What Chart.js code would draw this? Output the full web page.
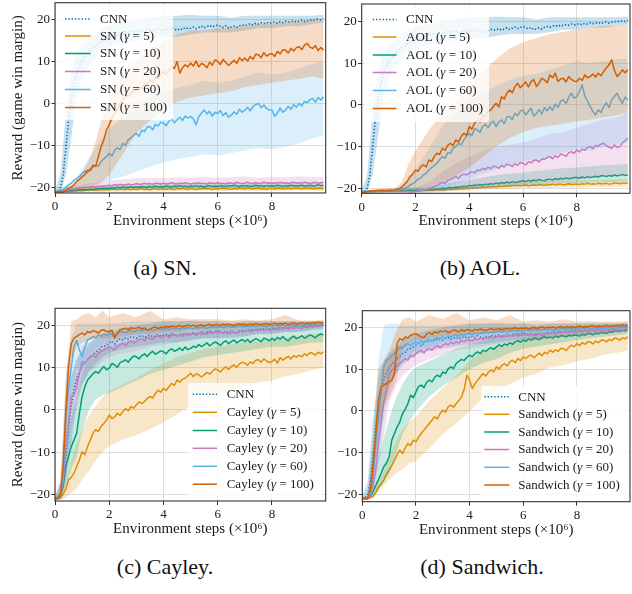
<!DOCTYPE html>
<html><head><meta charset="utf-8">
<script src="https://cdn.jsdelivr.net/npm/chart.js@4.4.0/dist/chart.umd.min.js"></script>
<style>
html,body{margin:0;padding:0;background:#fff;}
body{width:632px;height:594px;position:relative;overflow:hidden;}
canvas{position:absolute;}
.cap{position:absolute;font-family:'Liberation Serif','Times New Roman',serif;font-size:22px;line-height:22px;color:#111;white-space:nowrap;transform:translateX(-50%);}
</style></head><body>
<canvas id="cA"></canvas><canvas id="cB"></canvas><canvas id="cC"></canvas><canvas id="cD"></canvas>
<div class="cap" style="left:165px;top:257px">(a) SN.</div>
<div class="cap" style="left:480px;top:257px">(b) AOL.</div>
<div class="cap" style="left:165px;top:556px">(c) Cayley.</div>
<div class="cap" style="left:482px;top:556px">(d) Sandwich.</div>
<script>
// ---------- x grids ----------
const stepX = [0,0.1,0.2,0.3,0.4,0.5,0.6,0.7,0.8,0.9,1,1.1,1.2,1.3,1.4,1.5,1.6,1.7,1.8,1.9,2,2.1,2.2,2.3,2.4,2.5,2.6,2.7,2.8,2.9,3,3.1,3.2,3.3,3.4,3.5,3.6,3.7,3.8,3.9,4,4.1,4.2,4.3,4.4,4.5,4.6,4.7,4.8,4.9,5,5.1,5.2,5.3,5.4,5.5,5.6,5.7,5.8,5.9,6,6.1,6.2,6.3,6.4,6.5,6.6,6.7,6.8,6.9,7,7.1,7.2,7.3,7.4,7.5,7.6,7.7,7.8,7.9,8,8.1,8.2,8.3,8.4,8.5,8.6,8.7,8.8,8.9,9,9.1,9.2,9.3,9.4,9.5,9.6,9.7,9.8,9.9];
const bandX = [0,0.2,0.4,0.6,0.8,1,1.25,1.5,1.75,2,2.5,3,3.5,4,4.5,5,5.5,6,6.5,7,7.5,8,8.5,9,9.5,9.9];
const xTickValues = [0,2,4,6,8];
const yTickValues = [-20,-10,0,10,20];

// ---------- CNN (shared) ----------
const cnnMean = [-21,-20.9,-20,-17,-10.5,-4,1,5,7.5,9,
10.5,11.2,12,12.6,13.1,13.8,14.1,14.9,15,15.4,
15.8,16.3,15.6,16.4,16.9,16.6,17.1,16.8,17.3,17.2,
17,17.4,17.6,17.2,17.5,17.8,17.3,17.6,17.9,17.5,
17.7,17.9,17.6,18.1,17.8,17.5,17.9,17.7,18.2,17.9,
18,18.3,17.9,18.2,18.5,18.1,18.4,18.7,18.3,18.6,
18.8,18.5,18.2,18.6,18,18.3,18.5,18.2,18.6,18.8,
18.6,18.9,19.1,18.8,19.2,19,19.3,19.1,19.4,19.2,
19.3,19.5,19.2,19.6,19.4,19.7,19.5,19.6,19.8,19.5,
19.7,19.9,19.6,19.8,20,19.9,20.1,20.2,20,20.3];
const cnnLo = [-21.3,-21,-17,-8,2,6,9,11,12.5,13.5,14.5,15,15.5,16,16,16.5,17,17,17,17.5,18,18,18.5,18.5,19,19.3];
const cnnHi = [-20.5,-17,-2,8,12,14,15.5,17,18,18.5,19.5,20,20.5,21,21,21.2,21,21,20.5,21,21,21,21,21,21,21.2];

// ---------- SN ----------
const sn5 = [-21,-21,-20.9,-20.9,-20.8,-20.8,-20.7,-20.8,-20.7,-20.6,
-20.7,-20.6,-20.5,-20.6,-20.5,-20.6,-20.4,-20.5,-20.5,-20.4,
-20.5,-20.3,-20.4,-20.5,-20.3,-20.4,-20.4,-20.3,-20.5,-20.3,
-20.4,-20.3,-20.2,-20.4,-20.3,-20.5,-20.3,-20.2,-20.4,-20.3,
-20.3,-20.4,-20.2,-20.3,-20.4,-20.2,-20.3,-20.1,-20.3,-20.4,
-20.2,-20.3,-20.4,-20.2,-20.3,-20.1,-20.3,-20.2,-20.4,-20.2,
-20.3,-20.2,-20.1,-20.3,-20.2,-20.4,-20.2,-20.3,-20.1,-20.2,
-20.3,-20.1,-20.2,-20.3,-20.2,-20.1,-20.3,-20.2,-20.4,-20.2,
-20.2,-20.3,-20.1,-20.2,-20.3,-20.2,-20.1,-20.3,-20.2,-20.1,
-20.2,-20.3,-20.1,-20.2,-20.1,-20.3,-20.2,-20.1,-20.2,-20.3];
const sn5Lo = [-21.3,-21.3,-21.2,-21.2,-21.1,-21.1,-21,-21,-21,-20.9,-20.9,-20.8,-20.9,-20.8,-20.8,-20.8,-20.7,-20.8,-20.7,-20.7,-20.8,-20.7,-20.7,-20.6,-20.7,-20.7];
const sn5Hi = [-20.7,-20.6,-20.5,-20.4,-20.3,-20.2,-20.1,-20,-20,-19.9,-19.9,-19.8,-19.8,-19.7,-19.8,-19.7,-19.7,-19.6,-19.7,-19.6,-19.6,-19.7,-19.6,-19.6,-19.5,-19.6];
const sn10 = [-21,-21,-20.9,-20.8,-20.8,-20.7,-20.7,-20.6,-20.6,-20.5,
-20.5,-20.4,-20.5,-20.3,-20.4,-20.2,-20.3,-20.2,-20.1,-20.2,
-20.1,-20,-20.1,-19.9,-20,-19.8,-20,-19.9,-19.8,-19.9,
-19.8,-19.9,-19.7,-19.8,-19.9,-19.7,-19.8,-19.6,-19.8,-19.7,
-19.8,-19.6,-19.7,-19.8,-19.6,-19.7,-19.5,-19.7,-19.6,-19.8,
-19.6,-19.7,-19.5,-19.7,-19.6,-19.8,-19.6,-19.5,-19.7,-19.6,
-19.7,-19.5,-19.6,-19.7,-19.5,-19.6,-19.4,-19.6,-19.7,-19.5,
-19.6,-19.5,-19.7,-19.6,-19.4,-19.6,-19.5,-19.7,-19.5,-19.6,
-19.5,-19.6,-19.4,-19.5,-19.7,-19.5,-19.6,-19.4,-19.5,-19.6,
-19.5,-19.4,-19.6,-19.5,-19.4,-19.6,-19.5,-19.3,-19.5,-19.4];
const sn10Lo = [-21.3,-21.2,-21.1,-21,-21,-20.9,-20.8,-20.7,-20.6,-20.6,-20.5,-20.4,-20.4,-20.3,-20.3,-20.2,-20.3,-20.2,-20.2,-20.2,-20.1,-20.1,-20.1,-20,-20.1,-20];
const sn10Hi = [-20.7,-20.5,-20.3,-20.1,-20,-19.9,-19.7,-19.6,-19.5,-19.4,-19.2,-19.1,-19,-19,-18.9,-19,-18.9,-18.8,-18.9,-18.8,-18.8,-18.9,-18.8,-18.7,-18.8,-18.7];
const sn20 = [-21,-21,-20.9,-20.7,-20.6,-20.5,-20.3,-20.4,-20.2,-20.1,
-20,-19.9,-20,-19.8,-19.7,-19.8,-19.6,-19.7,-19.5,-19.6,
-19.4,-19.5,-19.3,-19.4,-19.2,-19.3,-19.4,-19.1,-19.3,-19.2,
-19,-19.2,-19.1,-18.9,-19.1,-19,-19.2,-18.9,-19,-19.1,
-18.9,-19.1,-19,-18.8,-19,-19.1,-18.9,-19,-18.8,-19,
-19.1,-18.9,-19,-18.8,-19,-18.9,-19.1,-18.8,-18.9,-19,
-18.8,-19,-18.9,-19.1,-18.8,-18.9,-19,-18.7,-18.9,-19,
-18.9,-18.7,-19,-18.9,-18.8,-19,-18.9,-18.7,-18.9,-18.8,
-19,-18.8,-18.9,-18.7,-18.9,-18.8,-19,-18.8,-18.7,-18.9,
-18.8,-18.9,-18.7,-18.8,-19,-18.8,-18.7,-18.9,-18.8,-18.7];
const sn20Lo = [-21.3,-21.2,-21,-20.9,-20.7,-20.6,-20.5,-20.3,-20.2,-20.1,-20,-19.9,-19.9,-19.8,-19.9,-19.8,-19.9,-19.7,-19.8,-19.7,-19.8,-19.7,-19.8,-19.7,-19.7,-19.6];
const sn20Hi = [-20.7,-20.5,-20.2,-19.9,-19.6,-19.3,-19,-18.8,-18.5,-18.3,-18,-17.8,-17.6,-17.7,-17.5,-17.6,-17.4,-17.6,-17.5,-17.3,-17.6,-17.4,-17.5,-17.3,-17.4,-17.5];
const sn60 = [-21,-20.9,-20.6,-20.4,-19.9,-19.3,-18.9,-18.2,-17.8,-17.3,
-16.6,-16,-16.4,-15.5,-15.1,-14.6,-14.9,-13.8,-13.1,-12.6,
-11.8,-12.4,-11,-10.5,-10.9,-9.4,-9.9,-8.6,-8.1,-7.5,
-7,-7.8,-6.3,-6.6,-5.5,-5.4,-6.2,-4.9,-5.3,-4.4,
-4.6,-5.2,-4.1,-3.6,-4.5,-3.8,-3.2,-4,-2.9,-3.4,
-3,-3.6,-5,-3.1,-2.2,-1.5,-2.4,-1.8,-2.9,-2,
-2.3,-1.6,-2.8,-2.1,-3.2,-2.7,-1.9,-2.5,-1.3,-2,
-1.5,-0.8,-1.7,-0.6,-0.2,0.1,-0.9,-0.3,-1.1,-1.5,
-1.5,-3,-2.2,-1,-2,-1.5,-0.6,-1.3,-0.2,-0.8,
0.1,-0.5,0.6,0.3,1,1.3,0.4,1.5,0.9,1.7];
const sn60Lo = [-21.3,-21.1,-20.9,-20.6,-20.3,-20,-19.6,-19.2,-18.7,-18.2,-17.4,-16.2,-15,-14,-13.2,-12.6,-12,-12.3,-11.8,-11,-10.5,-10.8,-10.2,-9.5,-8.2,-7.5];
const sn60Hi = [-20.7,-20.3,-19.6,-18.7,-17.5,-15.5,-13,-10.5,-8,-6,-3,-0.5,1.5,3,3.8,4.5,5.5,5,5.5,6.5,7.5,7,7.5,8.5,9.5,10];
const sn100 = [-21,-21,-20.9,-21,-20.6,-20.1,-19.8,-19.3,-18.5,-18,
-17.4,-16.9,-15.8,-15.9,-14.6,-14.9,-12.6,-10.2,-8.6,-6.2,
-5,-3.4,-2.3,-1.2,0.1,0.9,1.7,1.9,2.5,3.1,
3.3,4,3.6,4.8,4.5,5.7,5.2,6.3,6,7.1,
7.7,6.9,8,8.9,8.4,10.1,7.3,8.6,9.3,8.8,
9.7,9,10.2,8.8,9.6,9.3,8.6,9.9,9.2,10.5,
10.1,9.4,10.6,9.8,9.2,9.7,10.4,9.6,11,10.3,
10.9,10.2,11.3,10.6,11.8,11.7,11,12.2,11.4,11.8,
12,11.3,12.5,11.9,12.9,12.8,12.1,13.2,12.6,13.4,
13.6,12.9,14,14.4,13.5,13.2,13.9,12.7,13.4,12.8];
const sn100Lo = [-21.3,-21.2,-21.2,-21,-20.8,-20.5,-20,-19.5,-18.5,-17,-12,-7,-4,-1.5,0.5,1.5,2,2.5,3,4,4.5,5,5.5,6,6.5,6];
const sn100Hi = [-20.7,-20.6,-20.4,-19.8,-18.5,-16.5,-13.5,-9,-3,1,7,10.5,13,15,16.5,17.5,17.5,18,18,18.5,19,19,19.5,19.5,20,19.8];

// ---------- AOL ----------
const aol5 = [-21,-20.9,-20.8,-20.7,-20.7,-20.6,-20.7,-20.6,-20.6,-20.7,
-20.6,-20.7,-20.6,-20.6,-20.7,-20.6,-20.5,-20.6,-20.6,-20.5,
-20.6,-20.5,-20.6,-20.5,-20.5,-20.4,-20.5,-20.4,-20.3,-20.4,
-20.3,-20.4,-20.2,-20.3,-20.2,-20.1,-20.2,-20,-20.1,-20,
-19.9,-20,-19.8,-19.9,-19.8,-19.7,-19.8,-19.6,-19.7,-19.6,
-19.7,-19.5,-19.6,-19.5,-19.4,-19.5,-19.3,-19.4,-19.3,-19.4,
-19.3,-19.2,-19.4,-19.3,-19.2,-19.3,-19.1,-19.2,-19.3,-19.1,
-19.2,-19,-19.2,-19.1,-19,-19.2,-19.1,-18.9,-19.1,-19,
-19,-19.1,-18.9,-19,-18.8,-19,-18.9,-19,-18.8,-18.9,
-18.9,-18.8,-19,-18.9,-18.7,-18.8,-18.9,-18.7,-18.8,-18.8];
const aol5Lo = [-21.3,-21.2,-21.1,-21.1,-21,-21,-21,-20.9,-20.9,-20.9,-20.8,-20.7,-20.6,-20.5,-20.3,-20.2,-20.1,-20,-19.9,-19.9,-19.8,-19.8,-19.7,-19.7,-19.6,-19.6];
const aol5Hi = [-20.7,-20.5,-20.4,-20.3,-20.3,-20.2,-20.2,-20.1,-20.1,-20,-19.9,-19.7,-19.5,-19.3,-19,-18.8,-18.6,-18.5,-18.4,-18.3,-18.2,-18.1,-18,-18,-17.9,-17.9];
const aol10 = [-21,-20.9,-20.8,-20.7,-20.7,-20.6,-20.7,-20.6,-20.5,-20.6,
-20.6,-20.5,-20.6,-20.6,-20.5,-20.6,-20.5,-20.6,-20.4,-20.5,
-20.5,-20.4,-20.5,-20.3,-20.4,-20.3,-20.2,-20.3,-20.1,-20.2,
-20,-20.1,-19.9,-19.8,-19.9,-19.7,-19.8,-19.6,-19.5,-19.6,
-19.3,-19.4,-19.2,-19.3,-19.1,-19.2,-19,-19.1,-18.9,-19,
-18.7,-18.9,-18.6,-18.8,-18.5,-18.7,-18.4,-18.6,-18.5,-18.3,
-18.2,-18.4,-18.1,-18.3,-18,-18.2,-17.9,-18.1,-18.2,-17.9,
-17.8,-18,-17.7,-17.9,-17.6,-17.8,-17.5,-17.7,-17.6,-17.4,
-17.4,-17.6,-17.3,-17.5,-17.2,-17.4,-17.3,-17.1,-17.3,-17,
-17,-17.2,-16.9,-17.1,-16.8,-17,-16.9,-16.7,-16.9,-16.8];
const aol10Lo = [-21.3,-21.2,-21.1,-21,-21,-21,-20.9,-20.9,-20.9,-20.8,-20.7,-20.6,-20.4,-20.2,-20,-19.7,-19.5,-19.3,-19.2,-19,-18.9,-18.8,-18.6,-18.5,-18.4,-18.3];
const aol10Hi = [-20.7,-20.5,-20.3,-20.2,-20.1,-20,-20,-19.9,-19.8,-19.8,-19.5,-19.1,-18.5,-18,-17.4,-16.9,-16.5,-16.2,-15.8,-15.5,-15.2,-15,-14.7,-14.5,-14.3,-14.2];
const aol20 = [-21,-20.9,-20.8,-20.7,-20.7,-20.6,-20.7,-20.6,-20.7,-20.6,
-20.7,-20.6,-20.7,-20.8,-20.7,-20.8,-20.7,-20.8,-20.9,-20.8,
-20.8,-20.7,-20.6,-20.4,-20.3,-20,-19.8,-19.5,-19.3,-18.9,
-18.6,-18.8,-18.1,-17.9,-17.5,-17.2,-17.6,-16.9,-16.6,-16.8,
-16.4,-16,-16.3,-15.6,-15.8,-15.2,-15.5,-14.9,-15.3,-14.7,
-14.8,-15.2,-14.5,-14.9,-14.2,-14.4,-14.8,-14.1,-14.5,-13.8,
-14,-14.4,-13.6,-13.9,-13.3,-13.2,-13.7,-12.9,-13.1,-12.6,
-12.4,-12.9,-12.2,-12.6,-11.8,-12,-12.3,-11.5,-11.2,-11.6,
-10.8,-11.3,-10.6,-10.9,-10.2,-10,-10.5,-9.7,-9.9,-9.4,
-9.2,-9.8,-10.1,-10.4,-9.6,-10.2,-10,-9.1,-8.6,-8];
const aol20Lo = [-21.3,-21.2,-21.1,-21,-21,-21,-21.1,-21.1,-21.1,-21.1,-21,-20.8,-20.5,-20.2,-19.9,-19.6,-19.3,-19,-18.8,-18.5,-18.2,-18,-17.6,-17.3,-17,-16.6];
const aol20Hi = [-20.7,-20.5,-20.4,-20.3,-20.3,-20.3,-20.3,-20.3,-20.2,-20,-18.5,-16,-14,-12.5,-11,-10,-9.5,-9,-8,-7,-6.5,-5.5,-4.5,-3.5,-3,-2];
const aol60 = [-21,-20.9,-20.8,-20.7,-20.6,-20.6,-20.7,-20.5,-20.6,-20.6,
-20.5,-20.6,-20.6,-20.5,-20.4,-20.2,-20,-19.7,-19.2,-18.9,
-18.4,-17.8,-17.5,-16.8,-16.4,-15.6,-15,-14.6,-14,-13.1,
-12.4,-12.8,-11.5,-11.6,-10.4,-10,-9.2,-9.6,-8.4,-7.5,
-6.8,-7.4,-5.7,-6,-6.6,-5.2,-4.6,-5.5,-4.4,-3.9,
-5.2,-4.1,-3.6,-4.5,-2.9,-2.8,-3.5,-2,-2.6,-1.5,
-1.2,-2.4,-1.6,-0.8,-2.7,-2,-1.1,-2.2,-0.6,-1.4,
-0.4,-1.3,0.2,-0.6,0.9,1.2,0.3,1.8,2.8,1.6,
2,3.2,4.8,2.1,0.9,-0.4,-1.6,-2.4,-1.2,-1.8,
-0.4,0.5,-0.6,1.2,2,2.8,1.4,0.4,1.9,1.2];
const aol60Lo = [-21.3,-21.2,-21.1,-21,-21,-21,-20.9,-20.9,-20.8,-20.7,-20.4,-19.8,-19,-17.8,-16.5,-15.5,-14.5,-13.5,-13,-12.5,-11.5,-10.5,-11,-10,-9.5,-9];
const aol60Hi = [-20.7,-20.5,-20.4,-20.3,-20.3,-20.2,-20.1,-19.6,-18,-15.5,-10.5,-5,-1.5,1,3,4.5,6,7,7.5,8.5,9.5,10.5,10,10.5,11,11];
const aol100 = [-21,-20.9,-20.8,-20.7,-20.6,-20.6,-20.5,-20.6,-20.5,-20.6,
-20.5,-20.6,-20.5,-20.3,-20.1,-19.6,-19,-18.3,-17.2,-16.6,
-15.6,-15.9,-14.8,-14.4,-14.9,-13.2,-13.6,-12.4,-11.6,-11.9,
-10.4,-10.9,-9.7,-9.2,-9.8,-8.4,-8.9,-7.6,-6.8,-7.3,
-5.2,-5.8,-4.4,-3.6,-4.1,-2.4,-2.9,-1.6,-1.2,-0.4,
0.4,-0.5,2,1.4,2.8,3.6,2.9,4.4,5.2,4.1,
4.8,5.5,4.3,5.6,6.1,4.4,5.2,6.4,6,5.3,
7.2,6.5,7.6,5.6,6.2,6.4,5.5,6.8,6.1,5.7,
5.6,6.4,5.9,7.2,6.5,6.8,7.4,6.7,7.6,7,
8,8.9,9.6,10.8,8.3,6.8,7.5,8.4,7.7,8.4];
const aol100Lo = [-21.3,-21.2,-21.1,-21,-21,-21,-20.9,-20.8,-20.6,-20.3,-19.5,-18.5,-17,-15,-12.5,-10,-8,-6.5,-5.5,-5,-4.5,-4,-3.5,-3,-2.5,-2];
const aol100Hi = [-20.7,-20.5,-20.4,-20.3,-20.3,-20.2,-19.8,-18.5,-14,-11,-6,-2,1,4,8,11,13.5,15,16,17,17.5,18,18.5,19,19,19.2];

// ---------- Cayley ----------
const cay5 = [-21,-21,-20.9,-20,-18.8,-16.6,-16,-15,-13.4,-11.8,
-9.9,-10.6,-8.7,-7.2,-5.5,-4.7,-5.1,-3.9,-3.2,-2.4,
-1.2,-2.1,-1.6,-0.8,-1.3,-0.4,0.3,-0.2,0.8,0.4,
1.2,1.9,1.5,2,2.7,3.2,2.8,3.9,4.7,4.2,
5.1,4.6,5.5,6.3,5.8,7.1,6.6,7.3,7.5,8.1,
8.7,7.9,8.6,8.3,7.8,8.3,8.9,8.5,9.1,9.7,
9.5,9,9.8,10.2,9.6,10.3,10.7,10.1,10.9,11.3,
11.1,10.6,11.4,11,11.8,11.9,11.3,12.1,11.6,11.2,
11.5,12,11.1,12.4,11.8,12.3,12.7,12.1,12.9,12.5,
13,12.6,13.3,12.9,13.6,13.4,13,13.7,13.3,13.8];
const cay5Lo = [-21.3,-21.3,-20.8,-19.8,-18.5,-16.5,-14.5,-12,-10,-8.5,-7,-6,-4.5,-3,-1,1,2,3.5,4.5,5.5,6.5,7,8,8.5,9.5,10];
const cay5Hi = [-20.7,-20.5,-17,-12,-8,-4.5,-1.5,1,3,4.5,6,7.5,9.5,11,12.5,13.5,14.5,15,15.5,16,16.5,16.5,17,17.5,18,18];
const cay10 = [-21,-21,-20.8,-18.2,-13.4,-11,-8.7,-7.1,-5.5,-0.8,
3.2,5.5,7.1,7.8,8.6,9.1,8.7,9.6,10.3,9.5,
9.9,11,10.7,10.1,11.2,11.5,11.9,11.3,12.2,12.8,
12.6,12.1,12.9,13.3,12.7,13.4,13.9,13.2,13.6,14,
13.8,13.3,14.1,14.5,13.9,14.2,14.7,14.1,14.9,14.3,
14.6,15.1,14.8,15.5,15,15.4,15.9,15.2,15.7,16.1,
15.8,15.3,16,16.4,15.7,16.2,16.6,15.9,16.3,16.7,
16.2,16.7,16,16.5,16.9,16.6,16.2,17,16.8,16.4,
17,16.5,17.2,16.8,17.4,16.8,16.4,17.1,17.5,16.9,
17.2,17.6,17,17.4,17.8,17.5,17.1,17.7,18,17.8];
const cay10Lo = [-21.3,-21.2,-18,-14,-11,-5,0,2.5,3.5,4,5.5,7,8.5,9.5,10.5,11.5,12.5,13,13.5,14,14.5,15,15,15.5,16,16];
const cay10Hi = [-20.7,-20,-9,-2,3,8.5,12,13.5,14.5,15,16,16.8,17.5,18,18.3,18.5,18.8,19,19.2,19.4,19.5,19.6,19.7,19.8,20,20];
const cay20 = [-21,-21,-20.6,-17,-8,-3,3.2,3.6,5.5,8.7,
11.5,11,11.9,12.6,13,12.5,13.4,13.9,14.2,14.6,
15,14.6,14.2,15.1,15.5,15.8,15.3,16,16.4,15.9,
16.2,16.6,16.9,16.4,17.2,17,16.7,17.3,17.5,17.1,
17.4,17.7,17.2,17.6,17.9,17.5,17.8,17.4,18,17.7,
17.8,18.1,17.7,18.2,17.9,18.3,18,18.4,18.1,18.5,
18.2,18.5,18.1,18.6,18.3,18.7,18.4,18.2,18.8,18.5,
18.6,18.9,18.5,18.8,19,18.7,19.1,18.8,19.2,18.9,
19,19.2,18.9,19.3,19.1,19.4,19.2,19.5,19.3,19.6,
19.5,19.3,19.7,19.5,19.8,19.6,19.9,19.7,20,19.9];
const cay20Lo = [-21.3,-21.2,-16,-4,0,6,9,10,11.5,12.5,13.5,14,15,15.5,16,16.5,17,17,17.5,17.5,18,18,18.5,18.5,19,19];
const cay20Hi = [-20.7,-19.5,0,8,12,15,16,17,17.5,18,18.5,19,19.2,19.4,19.5,19.6,19.8,19.8,20,20,20.2,20.2,20.3,20.4,20.5,20.6];
const cay60 = [-21,-21,-20.5,-16,-1,5,10,15,16.5,14.2,
12.6,15,16.6,16.9,17.4,17.1,17.8,17.5,18,17.7,
18.2,17.9,17.4,18.3,18.5,18.6,18.3,18.7,18.9,18.5,
18.8,19,18.7,19.1,18.9,19.2,18.8,19,19.3,19.1,
19.1,19.3,19,19.4,19.2,19.4,19.1,19.5,19.3,19.6,
19.4,19.2,19.6,19.4,19.7,19.5,19.3,19.6,19.8,19.5,
19.6,19.8,19.5,19.7,19.9,19.6,19.8,19.7,20,19.8,
19.7,19.9,19.8,20,19.7,19.9,20.1,19.8,20,19.9,
19.9,20.1,19.8,20,20.2,19.9,20.1,20,20.2,20,
20.1,19.9,20.2,20,20.3,20.1,20.2,20,20.3,20.2];
const cay60Lo = [-21.3,-21.2,-10,3,10,9,12,14.5,15.5,16,17,17.5,17.8,18,18.3,18.5,18.7,18.8,19,19.1,19.2,19.3,19.4,19.5,19.6,19.6];
const cay60Hi = [-20.7,-18,8,17,20.5,20.5,20.5,20.5,20.5,20.5,20.8,21,21,21,21,21,21,21,21,21,21,21,21,21,21,21];
const cay100 = [-21,-21,-20,-13.4,0,10.3,15.8,17,17.4,17.9,
18.2,17.8,18.6,18.3,18.8,18.6,18.2,18.9,19,18.6,
18.6,18.9,17,18.2,19,19.2,19.4,19,19.5,19.3,
19.4,19.6,19.2,19.5,18.9,19.1,19.5,19.7,19.3,19.6,
19.5,19.8,19.6,19.9,19.7,19.8,20,19.7,19.9,20.1,
19.9,20.1,19.8,20,20.2,19.9,20.1,20.3,20,20.2,
20.2,20,20.3,20.1,20.4,20.2,20,20.3,20.4,20.2,
20.3,20.1,20.4,20.2,20.5,20.3,20.2,20.4,20.5,20.3,
20.4,20.6,20.3,20.5,20.4,20.6,20.3,20.5,20.7,20.4,
20.5,20.7,20.4,20.6,20.5,20.7,20.6,20.8,20.6,20.7];
const cay100Lo = [-21.3,-21.2,-6,12,15,16,16.5,17,17,17,17.5,18,18,18.5,18.5,19,19,19.3,19.3,19.5,19.5,19.7,19.7,19.8,19.8,20];
const cay100Hi = [-20.7,-17,8,21,21.5,22.5,23,22,23.5,22,23,22,23.5,21.5,22,21.5,21.5,21.5,21.2,21.5,21.2,21.5,22.5,21.2,21.2,21.3];

// ---------- Sandwich ----------
const san5 = [-21,-21,-21,-20.8,-20.5,-19.6,-18.3,-17.6,-16.6,-15.2,
-14.2,-13.1,-11.8,-10.5,-9.4,-10.2,-8.9,-7.8,-8.3,-7,
-7.4,-6.3,-5.4,-4.6,-3.8,-3,-2.2,-1.4,-1.9,-0.6,
0.2,-0.3,1,1.4,0.9,1.8,2.5,3.4,5.2,8.6,
7.4,5.4,6.5,7.4,8.2,9,8.4,9.3,9.8,9.4,
10.6,10.1,10.9,11.4,10.8,11.8,12.2,11.6,12.6,12.1,
13,12.6,13.2,13.4,12.8,13.4,13.9,13.3,14.1,13.7,
14.6,14.1,14.7,14.3,15,15,14.5,15.3,15.8,15.4,
16.2,15.7,16.4,16,16.6,16.6,16.1,16.8,16.4,17,
17,16.6,17.2,16.9,17.5,17.4,17,17.6,17.3,17.8];
const san5Lo = [-21.3,-21.3,-21,-19.5,-18,-16.5,-15,-14,-12.5,-12,-9,-5.5,-3,0,3,5,6.5,8,9,10.5,11,12,12.5,13.5,14,14.5];
const san5Hi = [-20.7,-20.5,-19.8,-16.5,-14.5,-11,-7,-4.5,-2.5,-1.5,2.5,5.5,8.5,12,14.5,15.5,16.5,17.5,18,18.5,19,19.5,19.8,20,20.2,20.3];
const san10 = [-21,-21,-21,-20.5,-19.4,-17.9,-16.5,-15,-13.4,-12.5,
-11,-7,-5.4,-3.8,-2.6,-0.6,0.4,1.8,3.8,3.2,
4.6,5.9,6.2,5.6,6.9,7.4,7,8.1,8.6,8.2,
9.4,9,10.1,10.6,10.2,11.4,11.9,12.4,12.1,12.9,
13.4,13,13.8,14.2,13.8,14.6,14.3,14.9,15.2,14.8,
15.4,15.9,15.5,16.1,15.8,16.4,16,16.6,16.9,16.5,
17,16.7,17.3,17,17.5,17.4,17.1,17.6,17.9,17.5,
17.8,17.5,18,17.7,18.1,18,17.8,18.2,18,18.3,
18.2,18,18.4,18.2,18.6,18.6,18.3,18.7,18.5,18.9,
18.8,18.6,19,18.9,19.2,19.3,19.1,19.4,19.2,19.6];
const san10Lo = [-21.3,-21.3,-20.5,-19,-17,-15,-10.5,-5.5,-2.5,0,3.5,6,8,10,11.5,12.5,14,15,15.5,16,16.5,17,17.5,17.8,18.2,18.5];
const san10Hi = [-20.7,-20.5,-17,-11,-6.5,-2,3,6.5,9,10.5,12,13.5,15,16,17,18,18.5,19,19.2,19.5,19.6,19.7,19.8,19.9,20.2,20.4];
const san20 = [-21,-21,-21,-20.5,-18,-14,-8,-3,2,5,
9,9.8,10.2,10.8,11.4,12,12.6,12.2,13.4,13,
13.8,14.3,14.6,13.9,14.8,15,14.6,15.4,15.7,15.2,
15.8,16.2,15.9,16.5,16.1,16.6,16.3,16.9,16.6,17.1,
17,16.8,17.3,17.1,17.5,17.2,17.6,17.4,17.8,17.5,
17.8,18,17.7,18.1,17.9,18.2,17.9,18.3,18,18.2,
18.2,18.4,18.1,18.5,18.3,18.6,18.3,18.5,18.7,18.4,
18.6,18.8,18.5,18.9,18.7,19,18.8,18.9,19.1,18.8,
19,19.2,18.9,19.3,19.1,19.2,19.4,19.1,19.3,19.5,
19.4,19.2,19.5,19.3,19.6,19.5,19.7,19.4,19.6,19.8];
const san20Lo = [-21.3,-21.3,-20,-13,-6,2,6,8.5,10,11,12.5,13.5,14.5,15,15.5,16,16.5,17,17,17.5,17.8,18,18.2,18.5,18.7,19];
const san20Hi = [-20.7,-20.3,-10,2,9,13,15,16,16.8,17.5,18,18.5,19,19.3,19.5,19.8,20,20,20.2,20.3,20.4,20.5,20.5,20.6,20.7,20.8];
const san60 = [-21,-21,-20.9,-20,-15,-8,-2,5,10.6,12.2,
12.6,13.3,13.8,14.6,15.4,15,15.8,16.1,15.7,16.3,
16.6,16.2,16.9,16.5,17.1,17.2,16.8,17.4,17.6,17.3,
17.8,17.5,18,17.7,18.1,18.2,17.9,18.4,18.1,18.5,
18.6,18.3,18.7,18.5,18.8,18.6,18.9,18.7,19,18.8,
19,19.2,18.9,19.1,19.3,19,19.2,19.4,19.1,19.3,
19.3,19.5,19.2,19.4,19.6,19.3,19.5,19.4,19.7,19.5,
19.6,19.4,19.7,19.5,19.8,19.6,19.9,19.7,19.8,19.6,
19.8,20,19.7,19.9,20.1,19.8,20,19.9,20.1,19.8,
19.9,20.1,20,20.2,19.9,20.1,20.3,20,20.2,20.2];
const san60Lo = [-21.3,-21.3,-19,-13,-2,5,9,12,13.5,14.5,15.5,16.5,17,17.5,18,18.2,18.5,18.7,18.8,19,19.2,19.3,19.4,19.5,19.6,19.7];
const san60Hi = [-20.7,-20,-4,12,20.5,21,21,20.5,20.5,20.5,20.5,20.6,20.7,20.8,20.8,20.9,20.9,21,21,21,21,21.1,21.1,21.2,21.2,21.2];
const san100 = [-21,-21,-21,-19,-13.4,-5.4,2.6,5.8,6.2,6.6,
7,7.4,9,16.2,17.4,17,17.8,17.5,18.2,18.4,
18.6,18.1,17.8,17.6,18.5,18.8,18.4,19,18.7,19.2,
19,19.3,18.8,19.1,19.4,19.3,19,19.5,19.2,19.6,
19.4,19.2,19.6,19.4,19.7,19.5,19.3,19.6,19.8,19.5,
19.6,19.8,19.5,19.7,19.9,19.6,19.8,20,19.7,19.9,
19.8,20,19.7,19.9,20.1,19.8,20,20.2,19.9,20.1,
20,20.2,19.9,20.1,20.3,20,20.2,20.1,20.3,20,
20.2,20.4,20.1,20.3,20.2,20.4,20.5,20.2,20.4,20.3,
20.4,20.6,20.3,20.5,20.4,20.6,20.5,20.7,20.5,20.6];
const san100Lo = [-21.3,-21.3,-18,-5,1,3,7,15,16.5,17,17.5,18,18.2,18.5,18.7,18.8,19,19.2,19.3,19.5,19.6,19.7,19.8,19.9,20,20];
const san100Hi = [-20.7,-20.5,-8,10,12,14.5,19,22,22.5,21.5,23,22,23.5,21.8,22.5,21.8,23,21.5,21.8,21.4,22,21.5,21.6,21.4,21.5,21.6];

// ---------- labels ----------
const snLabels = ['CNN','SN (γ = 5)','SN (γ = 10)','SN (γ = 20)','SN (γ = 60)','SN (γ = 100)'];
const aolLabels = ['CNN','AOL (γ = 5)','AOL (γ = 10)','AOL (γ = 20)','AOL (γ = 60)','AOL (γ = 100)'];
const cayLabels = ['CNN','Cayley (γ = 5)','Cayley (γ = 10)','Cayley (γ = 20)','Cayley (γ = 60)','Cayley (γ = 100)'];
const sanLabels = ['CNN','Sandwich (γ = 5)','Sandwich (γ = 10)','Sandwich (γ = 20)','Sandwich (γ = 60)','Sandwich (γ = 100)'];
const xTitle = 'Environment steps (×10⁶)';
const yTitle = 'Reward (game win margin)';

// ---------- style ----------
const FONT = "'Liberation Serif','Times New Roman',serif";
const COLORS = ['#0173b2','#de8f05','#029e73','#cc78bc','#56b4e9','#d55e00'];
const GRID = '#dedede', AX = '#333333', TXT = '#1a1a1a';
Chart.defaults.font.family = FONT;

function rgba(hex, a){const n=parseInt(hex.slice(1),16);return `rgba(${n>>16&255},${n>>8&255},${n&255},${a})`;}
function pts(xs, ys){const n=Math.min(xs.length,ys.length);const o=[];for(let i=0;i<n;i++)o.push({x:xs[i],y:ys[i]});return o;}
function fmt(v){return v<0?'\u2212'+(-v):String(v);}

function buildDatasets(series){
  const ds=[];
  series.forEach((s,k)=>{
    ds.push({data:pts(bandX,s.lo),borderColor:'rgba(0,0,0,0)',borderWidth:0,pointRadius:0,fill:false});
    ds.push({data:pts(bandX,s.hi),borderColor:'rgba(0,0,0,0)',borderWidth:0,pointRadius:0,fill:'-1',backgroundColor:rgba(COLORS[k],0.22)});
    ds.push({data:pts(stepX,s.mean),borderColor:COLORS[k],borderWidth:k===0?1.6:1.5,borderDash:k===0?[1.4,1.9]:[],pointRadius:0,fill:false});
  });
  ds.forEach((d,i)=>{d.order=ds.length-i;});
  return ds;
}

function roundRect(ctx,x,y,w,h,r){ctx.beginPath();ctx.moveTo(x+r,y);ctx.lineTo(x+w-r,y);ctx.quadraticCurveTo(x+w,y,x+w,y+r);ctx.lineTo(x+w,y+h-r);ctx.quadraticCurveTo(x+w,y+h,x+w-r,y+h);ctx.lineTo(x+r,y+h);ctx.quadraticCurveTo(x,y+h,x,y+h-r);ctx.lineTo(x,y+r);ctx.quadraticCurveTo(x,y,x+r,y);ctx.closePath();}

function overlayPlugin(id, leg, labels, cv){
  return {id, afterDatasetsDraw(chart){
    const ctx=chart.ctx, a=chart.chartArea;
    ctx.save();
    ctx.fillStyle='rgba(255,255,255,0.8)';
    roundRect(ctx,leg.box[0]-cv.x,leg.box[1]-cv.y,leg.box[2],leg.box[3],3);ctx.fill();
    labels.forEach((lab,i)=>{
      const y=leg.rows[i]-cv.y;
      ctx.strokeStyle=COLORS[i];ctx.lineWidth=i===0?1.6:1.5;ctx.setLineDash(i===0?[1.4,1.9]:[]);
      ctx.beginPath();ctx.moveTo(leg.lineX[0]-cv.x,y);ctx.lineTo(leg.lineX[1]-cv.x,y);ctx.stroke();
      ctx.setLineDash([]);
      ctx.fillStyle=TXT;ctx.textBaseline='middle';ctx.textAlign='left';
      let tx=leg.textX-cv.x;
      lab.split(/(γ)/).forEach(p=>{if(!p)return;ctx.font=(p==='γ'?'italic ':'')+'13px '+FONT;ctx.fillText(p,tx,y+0.5);tx+=ctx.measureText(p).width;});
    });
    ctx.strokeStyle=AX;ctx.lineWidth=1.1;
    ctx.strokeRect(a.left,a.top,a.right-a.left,a.bottom-a.top);
    ctx.restore();
  }};
}

function panel(id, cv, area, yr, showY, series, labels, leg){
  const canvas=document.getElementById(id);
  canvas.width=cv.w;canvas.height=cv.h;
  canvas.style.left=cv.x+'px';canvas.style.top=cv.y+'px';
  canvas.style.width=cv.w+'px';canvas.style.height=cv.h+'px';
  const L=area.L-cv.x, R=area.R-cv.x, T=area.T-cv.y, B=area.B-cv.y;
  new Chart(canvas,{type:'line',data:{datasets:buildDatasets(series)},options:{
    responsive:false,animation:false,devicePixelRatio:1,
    layout:{padding:{left:0,right:cv.w-R,top:T,bottom:0}},
    plugins:{legend:{display:false},tooltip:{enabled:false}},
    elements:{point:{radius:0},line:{tension:0,borderJoinStyle:'round'}},
    scales:{
      x:{type:'linear',min:0,max:9.98,
        afterBuildTicks:s=>{s.ticks=xTickValues.map(v=>({value:v}));},
        afterFit:s=>{s.height=cv.h-B;s.paddingLeft=0;s.paddingRight=0;},
        grid:{color:GRID,lineWidth:1,tickColor:AX,tickLength:4,tickWidth:1},
        border:{display:false},
        ticks:{font:{family:FONT,size:13},color:TXT,padding:2.2,maxRotation:0,autoSkip:false,callback:v=>fmt(v)},
        title:{display:true,text:xTitle,font:{family:FONT,size:15},color:TXT,padding:{top:0,bottom:cv.h-B-28-9}}},
      y:{type:'linear',min:yr[0],max:yr[1],
        afterBuildTicks:s=>{s.ticks=yTickValues.map(v=>({value:v}));},
        afterFit:s=>{s.width=L;s.paddingTop=0;s.paddingBottom=0;},
        grid:{color:GRID,lineWidth:1,tickColor:AX,tickLength:3.5,tickWidth:1},
        border:{display:false},
        ticks:{font:{family:FONT,size:13},color:TXT,padding:1.5,autoSkip:false,callback:v=>fmt(v)},
        title:{display:showY,text:yTitle,font:{family:FONT,size:15},color:TXT,padding:{top:9,bottom:0}}}
    }
  },plugins:[overlayPlugin('ov'+id,leg,labels,cv)]});
}

const cnnS = {mean:cnnMean,lo:cnnLo,hi:cnnHi};
panel('cA',{x:0,y:0,w:330,h:240},{L:55,R:325.7,T:2.7,B:193},[-21.25,24.1],true,
  [cnnS,{mean:sn5,lo:sn5Lo,hi:sn5Hi},{mean:sn10,lo:sn10Lo,hi:sn10Hi},{mean:sn20,lo:sn20Lo,hi:sn20Hi},{mean:sn60,lo:sn60Lo,hi:sn60Hi},{mean:sn100,lo:sn100Lo,hi:sn100Hi}],
  snLabels,{box:[57,5,116,115],lineX:[65,90.7],textX:100,rows:[19,36,53.5,71.5,89.5,107.5]});
panel('cB',{x:330,y:0,w:302,h:240},{L:361.7,R:630,T:4,B:193.3},[-21.2,24.2],false,
  [cnnS,{mean:aol5,lo:aol5Lo,hi:aol5Hi},{mean:aol10,lo:aol10Lo,hi:aol10Hi},{mean:aol20,lo:aol20Lo,hi:aol20Hi},{mean:aol60,lo:aol60Lo,hi:aol60Hi},{mean:aol100,lo:aol100Lo,hi:aol100Hi}],
  aolLabels,{box:[364,6,125,116],lineX:[372.7,396.5],textX:406,rows:[19.5,37,55,72.5,90.5,108.5]});
panel('cC',{x:0,y:298,w:330,h:244},{L:55,R:325.7,T:308.3,B:501},[-21.6,24.1],true,
  [cnnS,{mean:cay5,lo:cay5Lo,hi:cay5Hi},{mean:cay10,lo:cay10Lo,hi:cay10Hi},{mean:cay20,lo:cay20Lo,hi:cay20Hi},{mean:cay60,lo:cay60Lo,hi:cay60Hi},{mean:cay100,lo:cay100Lo,hi:cay100Hi}],
  cayLabels,{box:[188,383,135,115],lineX:[192.7,217],textX:226.7,rows:[394.3,412.3,430.5,448.3,466.3,484.2]});
panel('cD',{x:330,y:298,w:302,h:244},{L:362.3,R:630,T:310.7,B:501.7},[-21.78,24.08],false,
  [cnnS,{mean:san5,lo:san5Lo,hi:san5Hi},{mean:san10,lo:san10Lo,hi:san10Hi},{mean:san20,lo:san20Lo,hi:san20Hi},{mean:san60,lo:san60Lo,hi:san60Hi},{mean:san100,lo:san100Lo,hi:san100Hi}],
  sanLabels,{box:[481,386,147,114],lineX:[484.3,509.3],textX:518.3,rows:[396.7,414.3,432,449.5,467.3,485]});
</script>
</body></html>
